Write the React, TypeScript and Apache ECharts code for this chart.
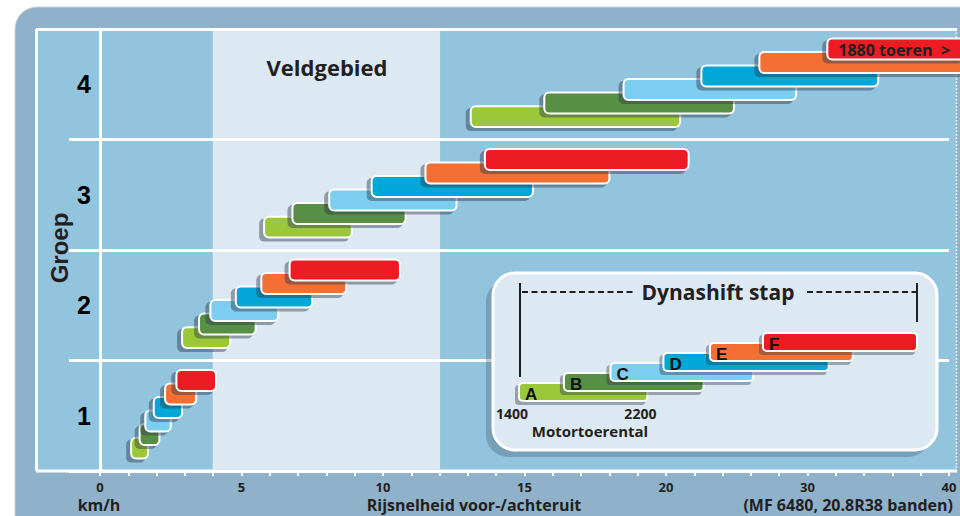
import React, { useEffect, useRef } from "react";
import * as echarts from "echarts";

// ---- data ----
const groups = ["1", "2", "3", "4"];
const stages = ["A", "B", "C", "D", "E", "F"];
const stageColors = ["#9bc83b", "#578f44", "#7dcdf1", "#00a7d7", "#f37032", "#ed1c24"];
// speed range per Dynashift stage, km/h [from, to]
const group1 = [[1.1, 1.7], [1.4, 2.1], [1.6, 2.5], [1.9, 2.9], [2.3, 3.4], [2.7, 4.1]];
const group2 = [[2.9, 4.6], [3.5, 5.5], [3.9, 6.3], [4.8, 7.5], [5.7, 8.7], [6.7, 10.6]];
const group3 = [[5.8, 8.9], [6.8, 10.8], [8.1, 12.6], [9.6, 15.3], [11.5, 18.0], [13.6, 21.6]];
const group4 = [[13.1, 21.0], [15.7, 24.8], [18.5, 29.2], [22.5, 35.0], [26.6, 41.2], [31.4, 41.2]];
const xTickLabels = [0, 5, 10, 15, 20, 30, 40];
const fieldRange = [4, 12];
const topBarLabel = "1880 toeren  >";
// inset legend (schematic): engine speed per stage
const insetRanges = [[1400, 2200], [1680, 2550], [1970, 2860], [2300, 3330], [2590, 3480], [2920, 3880]];
const insetTickLabels = [1400, 2200];

// axis is linear up to 20 km/h, half scale from 20 to 40 km/h
const tx = (v: number) => (v <= 20 ? v : 20 + (v - 20) / 2);
const inv = (t: number) => (t <= 20 ? t : 20 + (t - 20) * 2);

const DARK = "#231f20";
const GILL = "'Open Sans', Lato, sans-serif";
const ARIAL = "'Liberation Sans', Arial, sans-serif";

const txt = (text: string, x: number, y: number, size: number, family: string, align = "center", extra: any = {}) => ({
  type: "text",
  z: 20,
  x,
  y,
  ...extra,
  style: {
    text,
    textAlign: align,
    textVerticalAlign: "middle",
    fill: DARK,
    fontSize: size,
    fontWeight: "bold",
    fontFamily: family,
  },
});

export default function App() {
  const ref = useRef<HTMLDivElement>(null);
  useEffect(() => {
    if (!ref.current) return;
    const chart = echarts.init(ref.current, undefined, { renderer: "svg" });

    const groupRanges = [group1, group2, group3, group4];
    const barData: number[][] = [];
    groupRanges.forEach((ranges, g) =>
      ranges.forEach(([s, e], i) => barData.push([tx(s), tx(e), g, i]))
    );
    const insetData = insetRanges.map(([s, e], i) => [s, e, i]);

    const option: any = {
      animation: false,
      backgroundColor: "#ffffff",
      grid: [
        { left: 100, top: 29, right: 11, bottom: 45 },
        { left: 519, top: 342, width: 398, height: 50 },
      ],
      xAxis: [
        {
          type: "value",
          gridIndex: 0,
          min: 0,
          max: 30,
          interval: 5,
          z: 3,
          axisLine: { show: true, lineStyle: { color: "#ffffff", width: 3 } },
          axisTick: { show: true, length: 5, lineStyle: { color: "#ffffff", width: 2 } },
          minorTick: { show: true, splitNumber: 5, length: 5, lineStyle: { color: "#ffffff", width: 2 } },
          splitLine: { show: false },
          axisLabel: {
            customValues: xTickLabels.map(tx),
            formatter: (v: number) => String(Math.round(inv(v))),
            color: DARK,
            fontWeight: "bold",
            fontSize: 13,
            fontFamily: GILL,
            margin: 9,
          },
        },
        {
          type: "value",
          gridIndex: 1,
          min: 1400,
          max: 3880,
          z: 15,
          axisLine: { show: false },
          axisTick: { show: false },
          splitLine: { show: false },
          axisLabel: {
            customValues: insetTickLabels,
            formatter: (v: number) => String(v),
            color: DARK,
            fontWeight: "bold",
            fontSize: 14,
            fontFamily: GILL,
            margin: 14,
            padding: [0, 14, 0, 0],
          },
        },
      ],
      yAxis: [
        {
          type: "category",
          gridIndex: 0,
          data: groups,
          boundaryGap: true,
          z: 3,
          axisLine: { show: true, lineStyle: { color: "#ffffff", width: 3 } },
          axisTick: { show: true, length: 31, lineStyle: { color: "#ffffff", width: 3 } },
          splitLine: { show: true, lineStyle: { color: "#ffffff", width: 3 } },
          axisLabel: {
            color: "#000000",
            fontWeight: "bold",
            fontSize: 25,
            fontFamily: ARIAL,
            margin: 9,
          },
        },
        { type: "value", gridIndex: 1, min: 0, max: 5, show: false },
      ],
      series: [
        {
          type: "line",
          xAxisIndex: 0,
          yAxisIndex: 0,
          data: [],
          z: 1,
          silent: true,
          markArea: {
            silent: true,
            itemStyle: {
              color: "#dce8f2",
              borderColor: "#ffffff",
              borderWidth: 1,
              borderType: "dotted",
            },
            data: [[{ xAxis: tx(fieldRange[0]) }, { xAxis: tx(fieldRange[1]) }]],
          },
        },
        {
          type: "custom",
          xAxisIndex: 0,
          yAxisIndex: 0,
          z: 5,
          encode: { x: [0, 1], y: 2 },
          data: barData,
          renderItem: (params: any, api: any) => {
            const s = api.value(0);
            const e = api.value(1);
            const g = api.value(2);
            const i = api.value(3);
            const p0 = api.coord([s, g]);
            const p1 = api.coord([e, g]);
            const bandH = api.size([0, 1])[1];
            const cy = p0[1] + bandH / 2 - bandH * 0.207 - i * bandH * 0.1225;
            const h = bandH * 0.19;
            const x = p0[0];
            const w = p1[0] - p0[0];
            const children: any[] = [
              {
                type: "rect",
                shape: { x: x - 5, y: cy - h / 2 + 2, width: w + 2, height: h + 2, r: 5 },
                style: { fill: "rgba(45,60,75,0.45)" },
              },
              {
                type: "rect",
                shape: { x, y: cy - h / 2, width: w, height: h, r: 5 },
                style: { fill: stageColors[i], stroke: "#ffffff", lineWidth: 2 },
              },
            ];
            if (g === groups.length - 1 && i === stages.length - 1) {
              children.push({
                type: "text",
                style: {
                  text: topBarLabel,
                  x: x + 11,
                  y: cy + 1,
                  verticalAlign: "middle",
                  fill: DARK,
                  fontSize: 16,
                  fontWeight: "bold",
                  fontFamily: GILL,
                },
              });
            }
            return { type: "group", children };
          },
        },
        {
          type: "custom",
          xAxisIndex: 1,
          yAxisIndex: 1,
          z: 12,
          encode: { x: [0, 1], y: 2 },
          data: insetData,
          renderItem: (params: any, api: any) => {
            const s = api.value(0);
            const e = api.value(1);
            const i = api.value(2);
            const p0 = api.coord([s, i]);
            const p1 = api.coord([e, i]);
            const h = 18;
            const x = p0[0];
            const w = p1[0] - p0[0];
            const cy = p0[1];
            return {
              type: "group",
              children: [
                {
                  type: "rect",
                  shape: { x: x - 4, y: cy - h / 2 + 2, width: w + 2, height: h + 2, r: 4 },
                  style: { fill: "rgba(45,60,75,0.4)" },
                },
                {
                  type: "rect",
                  shape: { x, y: cy - h / 2, width: w, height: h, r: 4 },
                  style: { fill: stageColors[i], stroke: "#ffffff", lineWidth: 2 },
                },
                {
                  type: "text",
                  style: {
                    text: stages[i],
                    x: x + 6,
                    y: cy + 2,
                    verticalAlign: "middle",
                    fill: "#111111",
                    fontSize: 17,
                    fontWeight: "bold",
                    fontFamily: ARIAL,
                  },
                },
              ],
            };
          },
        },
      ],
      graphic: [
        // outer frame
        {
          type: "rect",
          z: -20,
          shape: { x: 15, y: 7, width: 980, height: 540, r: 22 },
          style: { fill: "#8fb2ca", stroke: "#c8d2d9", lineWidth: 1 },
        },
        // plot panel
        {
          type: "rect",
          z: -19,
          shape: { x: 36, y: 29, width: 921, height: 442 },
          style: { fill: "#93c4de" },
        },
        { type: "line", z: -18, shape: { x1: 36, y1: 29.5, x2: 957, y2: 29.5 }, style: { stroke: "#ffffff", lineWidth: 3 } },
        { type: "line", z: -18, shape: { x1: 36.5, y1: 29, x2: 36.5, y2: 471 }, style: { stroke: "#ffffff", lineWidth: 3 } },
        { type: "line", z: -18, shape: { x1: 36, y1: 471, x2: 957, y2: 471 }, style: { stroke: "#ffffff", lineWidth: 3 } },
        { type: "line", z: -18, shape: { x1: 956.5, y1: 29, x2: 956.5, y2: 471 }, style: { stroke: "#ffffff", lineWidth: 1.5, lineDash: [1.5, 2] } },
        // titles
        txt("Veldgebied", 327, 67, 22, GILL),
        txt("Groep", 59, 248, 24, ARIAL, "center", { rotation: Math.PI / 2 }),
        txt("km/h", 99, 505, 16, GILL),
        txt("Rijsnelheid voor-/achteruit", 474, 505, 16, GILL),
        txt("(MF 6480, 20.8R38 banden)", 953, 505, 16, GILL, "right"),
        // inset legend box
        {
          type: "rect",
          z: 9,
          shape: { x: 486, y: 280, width: 444, height: 177, r: 22 },
          style: { fill: "rgba(70,95,115,0.35)" },
        },
        {
          type: "rect",
          z: 10,
          shape: { x: 493, y: 273, width: 444, height: 177, r: 22 },
          style: { fill: "#dce8f2", stroke: "#ffffff", lineWidth: 3 },
        },
        { type: "line", z: 11, shape: { x1: 520, y1: 283, x2: 520, y2: 377 }, style: { stroke: DARK, lineWidth: 2 } },
        { type: "line", z: 11, shape: { x1: 917, y1: 283, x2: 917, y2: 322 }, style: { stroke: DARK, lineWidth: 2 } },
        { type: "line", z: 11, shape: { x1: 522, y1: 292, x2: 634, y2: 292 }, style: { stroke: DARK, lineWidth: 2, lineDash: [6, 3.5] } },
        { type: "line", z: 11, shape: { x1: 807, y1: 292, x2: 916, y2: 292 }, style: { stroke: DARK, lineWidth: 2, lineDash: [6, 3.5] } },
        txt("Dynashift stap", 718, 292, 21, GILL),
        txt("Motortoerental", 590, 431, 15, GILL),
      ],
    };

    chart.setOption(option);
    return () => chart.dispose();
  }, []);

  return <div ref={ref} style={{ width: 960, height: 516, position: "absolute", left: 0, top: 0 }} />;
}
